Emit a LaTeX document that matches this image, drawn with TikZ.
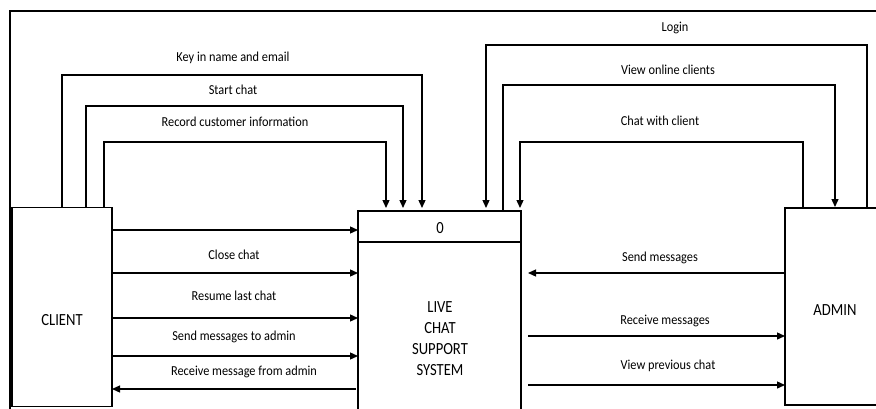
\documentclass[tikz,border=0pt]{standalone}
\usepackage{fontspec}
\setmainfont{Carlito}
\newfontfamily\bigfont{Carlito}[FakeStretch=0.86]
\newfontfamily\lblfont{Carlito}[FakeStretch=0.9]
\usetikzlibrary{arrows.meta}
\begin{document}
\begin{tikzpicture}[x=1pt,y=-1pt,line width=1.3pt,
  box/.style={draw,rectangle,inner sep=0pt,outer sep=0pt},
  big/.style={font=\bigfont\fontsize{17}{21}\selectfont,align=center,inner sep=0pt},
  lbl/.style={font=\lblfont\fontsize{13.7}{15}\selectfont,inner sep=0pt},
  arr/.style={-{Triangle[length=8pt,width=7pt]}}]
\useasboundingbox (0,0) rectangle (876,408);
\clip (0,0) rectangle (876,408);
% outer frame
\draw (10,430) -- (10,11) -- (900,11);
% boxes
\node[box,minimum width=100pt,minimum height=199pt] (client) at (62,307) {};
\node[big] (clienttext) at (62,320) {CLIENT};
\node[box,minimum width=163pt,minimum height=220pt] (sys) at (439.5,321) {};
\draw ([yshift=-31pt]sys.north west) -- ([yshift=-31pt]sys.north east);
\node[big] (sysid) at (440,228) {0};
\node[big] (systext) at (440,338.5) {LIVE\\CHAT\\SUPPORT\\SYSTEM};
\node[box,minimum width=100pt,minimum height=197pt] (admin) at (835,306.5) {};
\node[big] (admintext) at (835,310) {ADMIN};
% client top flows
\draw[arr,shorten >=3pt] ([xshift=50pt]client.north west) |- (422,75) -- ([xshift=64pt]sys.north west);
\draw[arr,shorten >=3pt] ([xshift=74pt]client.north west) |- (403,106) -- ([xshift=45pt]sys.north west);
\draw[arr,shorten >=3pt] ([xshift=92pt]client.north west) |- (386,142) -- ([xshift=28pt]sys.north west);
\node[lbl] (l1) at (233,58) {Key in name and email};
\node[lbl] (l2) at (233,90) {Start chat};
\node[lbl] (l3) at (235,122) {Record customer information};
% admin top flows
\draw[arr,shorten >=3pt] ([xshift=82pt]admin.north west) |- (486,45) -- ([xshift=128pt]sys.north west);
\draw[arr,shorten >=1pt] ([xshift=145pt]sys.north west) |- (835,85) -- (admin.north);
\draw[arr,shorten >=3pt] ([xshift=18pt]admin.north west) |- (520,142) -- ([xshift=162pt]sys.north west);
\node[lbl] (l4) at (675,28) {Login};
\node[lbl] (l5) at (668,70) {View online clients};
\node[lbl] (l6) at (660,121) {Chat with client};
% client horizontal flows
\draw[arr] ([yshift=-22.5pt]client.north east) -- ([yshift=-19pt]sys.north west);
\draw[arr] ([yshift=-65.5pt]client.north east) -- ([yshift=-62pt]sys.north west);
\draw[arr] ([yshift=-110.5pt]client.north east) -- ([yshift=-107pt]sys.north west);
\draw[arr] ([yshift=-148.5pt]client.north east) -- ([yshift=-145pt]sys.north west);
\draw[arr,shorten <=2pt] ([yshift=-178pt]sys.north west) -- ([yshift=-181.5pt]client.north east);
\node[lbl] (l7) at (234,255) {Close chat};
\node[lbl] (l8) at (234,296) {Resume last chat};
\node[lbl] (l9) at (234,337) {Send messages to admin};
\node[lbl] (l10) at (244,372) {Receive message from admin};
% admin horizontal flows
\draw[arr,shorten >=7pt] ([yshift=-65pt]admin.north west) -- ([yshift=-62pt]sys.north east);
\draw[arr,shorten <=7pt] ([yshift=-125pt]sys.north east) -- ([yshift=-128pt]admin.north west);
\draw[arr,shorten <=7pt] ([yshift=-174pt]sys.north east) -- ([yshift=-177pt]admin.north west);
\node[lbl] (l11) at (660,258) {Send messages};
\node[lbl] (l12) at (665,321) {Receive messages};
\node[lbl] (l13) at (668,366) {View previous chat};
\end{tikzpicture}
\end{document}
